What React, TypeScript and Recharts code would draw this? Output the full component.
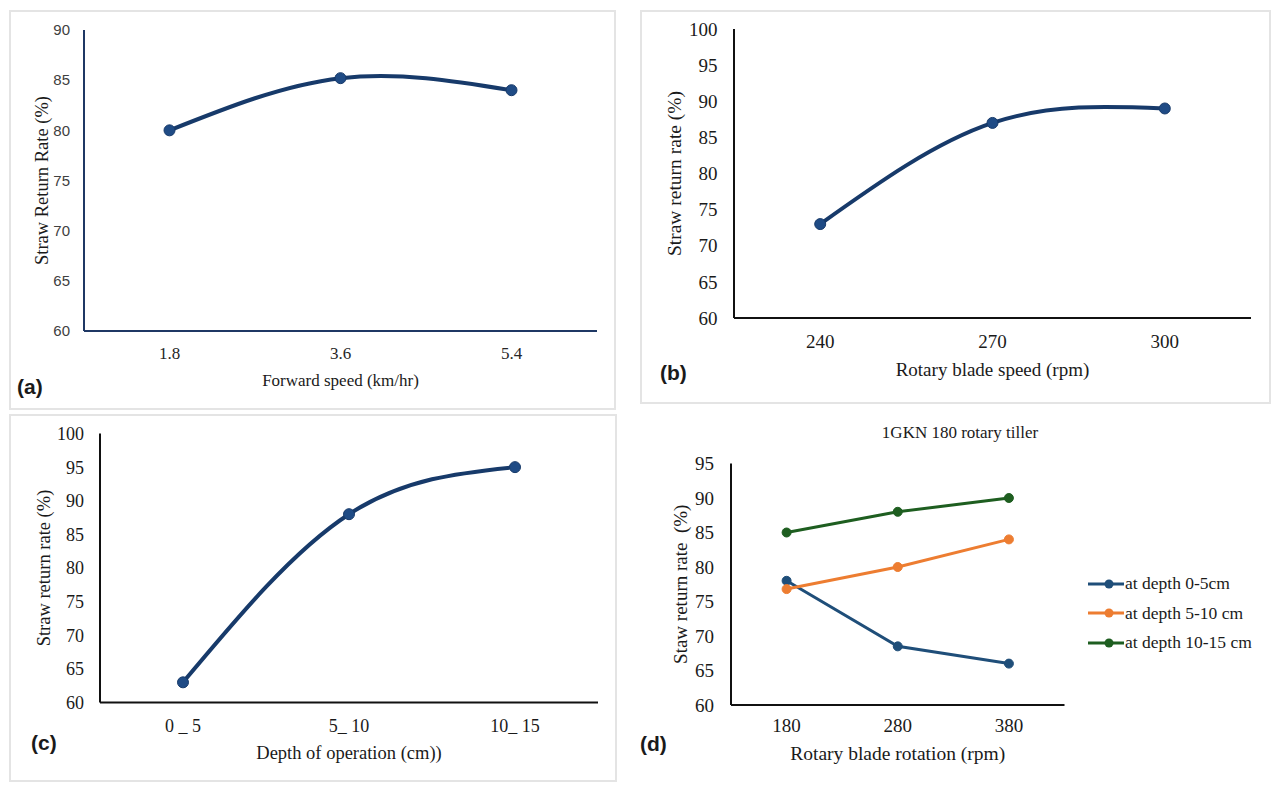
import React from 'react';
import { LineChart, Line, XAxis, YAxis, Label, Legend } from 'recharts';

// ---- data ----
const speedCategories = ['1.8', '3.6', '5.4'];
const speedReturnRate = [80, 85.2, 84];
const speedTicks = [60, 65, 70, 75, 80, 85, 90];

const bladeSpeedCategories = ['240', '270', '300'];
const bladeSpeedReturnRate = [73, 87, 89];
const bladeSpeedTicks = [60, 65, 70, 75, 80, 85, 90, 95, 100];

const depthCategories = ['0 _ 5', '5_ 10', '10_ 15'];
const depthReturnRate = [63, 88, 95];
const depthTicks = [60, 65, 70, 75, 80, 85, 90, 95, 100];

const rotationCategories = ['180', '280', '380'];
const depth0to5 = [78, 68.5, 66];
const depth5to10 = [76.8, 80, 84];
const depth10to15 = [85, 88, 90];
const rotationTicks = [60, 65, 70, 75, 80, 85, 90, 95];
const seriesOrder = ['d1', 'd2', 'd3'];

const SERIF = '"Liberation Serif", "Times New Roman", serif';
const SANS = '"Liberation Sans", Arial, sans-serif';
const NAVY = '#173a6a';
const DOT = '#1f4b85';
const BLUE = '#1f4e79';
const ORANGE = '#ed7d31';
const GREEN = '#1e5e20';

const speedData = speedCategories.map((c, i) => ({ cat: c, v: speedReturnRate[i] }));
const bladeData = bladeSpeedCategories.map((c, i) => ({ cat: c, v: bladeSpeedReturnRate[i] }));
const depthData = depthCategories.map((c, i) => ({ cat: c, v: depthReturnRate[i] }));
const rotationData = rotationCategories.map((c, i) => ({
  cat: c,
  d1: depth0to5[i],
  d2: depth5to10[i],
  d3: depth10to15[i],
}));

const frame = (left: number, top: number, width: number, height: number): React.CSSProperties => ({
  position: 'absolute',
  left,
  top,
  width,
  height,
  boxSizing: 'border-box',
  border: '2px solid #e4e4e4',
});

const letter = (left: number, centerY: number): React.CSSProperties => ({
  position: 'absolute',
  left,
  top: centerY - 12,
  lineHeight: '24px',
  fontFamily: SANS,
  fontWeight: 'bold',
  fontSize: 21,
  color: '#1a1a1a',
});

const renderLegend = (props: any) => {
  const payload = [...(props.payload || [])].sort(
    (a: any, b: any) => seriesOrder.indexOf(a.dataKey) - seriesOrder.indexOf(b.dataKey)
  );
  return (
    <div>
      {payload.map((entry: any) => (
        <div key={entry.value} style={{ display: 'flex', alignItems: 'center', height: 29.5 }}>
          <svg width={36} height={12} style={{ display: 'block' }}>
            <line x1={0} y1={6} x2={36} y2={6} stroke={entry.color} strokeWidth={3} />
            <circle cx={21} cy={6} r={4.5} fill={entry.color} />
          </svg>
          <span
            style={{
              fontFamily: SERIF,
              fontSize: 17.5,
              color: '#1a1a1a',
              marginLeft: 1,
              whiteSpace: 'nowrap',
            }}
          >
            {entry.value}
          </span>
        </div>
      ))}
    </div>
  );
};

const bigDot = { r: 5.5, fill: DOT, stroke: NAVY, strokeWidth: 1 };

export default function App() {
  return (
    <div style={{ position: 'absolute', left: 0, top: 0, width: 1280, height: 789, background: '#fff' }}>
      {/* frames */}
      <div style={frame(9, 10, 607, 400)} />
      <div style={frame(640, 10, 631, 394)} />
      <div style={frame(9, 414, 608, 368)} />

      {/* (a) */}
      <div style={{ position: 'absolute', left: 9, top: 10 }}>
        <LineChart width={607} height={400} data={speedData} margin={{ top: 20, right: 19, bottom: 0, left: 0 }}>
          <XAxis
            dataKey="cat"
            height={79}
            padding={{ left: 85.5, right: 85.5 }}
            axisLine={{ stroke: '#1f3864', strokeWidth: 2 }}
            tickLine={false}
            tickMargin={10}
            tick={{ fontFamily: SERIF, fontSize: 17, fill: '#262626' }}
          >
            <Label
              value="Forward speed (km/hr)"
              position="insideTop"
              offset={43}
              style={{ fontFamily: SERIF, fontSize: 17, fill: '#1a1a1a' }}
            />
          </XAxis>
          <YAxis
            type="number"
            domain={[60, 90]}
            ticks={speedTicks}
            width={75}
            axisLine={{ stroke: '#1f3864', strokeWidth: 2 }}
            tickLine={false}
            tickMargin={8}
            tick={{ fontFamily: SANS, fontSize: 15, fill: '#404040' }}
          >
            <Label
              value="Straw Return Rate (%)"
              angle={-90}
              position="insideLeft"
              offset={32}
              style={{ textAnchor: 'middle', fontFamily: SERIF, fontSize: 18.5, fill: '#1a1a1a' }}
            />
          </YAxis>
          <Line
            type="natural"
            dataKey="v"
            stroke={NAVY}
            strokeWidth={4}
            dot={bigDot}
            activeDot={false}
            isAnimationActive={false}
          />
        </LineChart>
      </div>
      <div style={letter(17, 387)}>(a)</div>

      {/* (b) */}
      <div style={{ position: 'absolute', left: 640, top: 10 }}>
        <LineChart width={632} height={394} data={bladeData} margin={{ top: 19, right: 21, bottom: 0, left: 0 }}>
          <XAxis
            dataKey="cat"
            height={86}
            padding={{ left: 86.2, right: 86.2 }}
            axisLine={{ stroke: '#111', strokeWidth: 2 }}
            tickLine={false}
            tickMargin={11}
            tick={{ fontFamily: SERIF, fontSize: 19, fill: '#1a1a1a' }}
          >
            <Label
              value="Rotary blade speed (rpm)"
              position="insideTop"
              offset={45}
              style={{ fontFamily: SERIF, fontSize: 19, fill: '#1a1a1a' }}
            />
          </XAxis>
          <YAxis
            type="number"
            domain={[60, 100]}
            ticks={bladeSpeedTicks}
            width={94}
            axisLine={{ stroke: '#111', strokeWidth: 2 }}
            tickLine={false}
            tickMargin={10.5}
            tick={{ fontFamily: SERIF, fontSize: 19, fill: '#1a1a1a' }}
          >
            <Label
              value="Straw return rate (%)"
              angle={-90}
              position="insideLeft"
              offset={34}
              style={{ textAnchor: 'middle', fontFamily: SERIF, fontSize: 19.5, fill: '#1a1a1a' }}
            />
          </YAxis>
          <Line
            type="natural"
            dataKey="v"
            stroke={NAVY}
            strokeWidth={4}
            dot={bigDot}
            activeDot={false}
            isAnimationActive={false}
          />
        </LineChart>
      </div>
      <div style={letter(660, 373)}>(b)</div>

      {/* (c) */}
      <div style={{ position: 'absolute', left: 9, top: 414 }}>
        <LineChart width={608} height={368} data={depthData} margin={{ top: 19.5, right: 19, bottom: 0, left: 0 }}>
          <XAxis
            dataKey="cat"
            height={79.5}
            padding={{ left: 83, right: 83 }}
            axisLine={{ stroke: '#111', strokeWidth: 2 }}
            tickLine={false}
            tickMargin={11}
            tick={{ fontFamily: SERIF, fontSize: 18, fill: '#1a1a1a' }}
          >
            <Label
              value="Depth of operation (cm))"
              position="insideTop"
              offset={43}
              style={{ fontFamily: SERIF, fontSize: 18.5, fill: '#1a1a1a' }}
            />
          </XAxis>
          <YAxis
            type="number"
            domain={[60, 100]}
            ticks={depthTicks}
            width={91}
            axisLine={{ stroke: '#111', strokeWidth: 2 }}
            tickLine={false}
            tickMargin={10}
            tick={{ fontFamily: SERIF, fontSize: 18, fill: '#1a1a1a' }}
          >
            <Label
              value="Straw return rate (%)"
              angle={-90}
              position="insideLeft"
              offset={34}
              style={{ textAnchor: 'middle', fontFamily: SERIF, fontSize: 18.5, fill: '#1a1a1a' }}
            />
          </YAxis>
          <Line
            type="natural"
            dataKey="v"
            stroke={NAVY}
            strokeWidth={4}
            dot={bigDot}
            activeDot={false}
            isAnimationActive={false}
          />
        </LineChart>
      </div>
      <div style={letter(31, 743)}>(c)</div>

      {/* (d) */}
      <div
        style={{
          position: 'absolute',
          left: 860,
          width: 200,
          top: 423,
          lineHeight: '20px',
          textAlign: 'center',
          fontFamily: SERIF,
          fontSize: 17,
          color: '#1a1a1a',
        }}
      >
        1GKN 180 rotary tiller
      </div>
      <div style={{ position: 'absolute', left: 640, top: 404 }}>
        <LineChart
          width={640}
          height={385}
          data={rotationData}
          margin={{ top: 59.5, right: 215.5, bottom: 0, left: 0 }}
        >
          <XAxis
            dataKey="cat"
            height={84}
            padding={{ left: 55.6, right: 55.6 }}
            axisLine={{ stroke: '#111', strokeWidth: 2 }}
            tickLine={false}
            tickMargin={8}
            tick={{ fontFamily: SERIF, fontSize: 19, fill: '#1a1a1a' }}
          >
            <Label
              value="Rotary blade rotation (rpm)"
              position="insideTop"
              offset={41}
              style={{ fontFamily: SERIF, fontSize: 19.5, fill: '#1a1a1a' }}
            />
          </XAxis>
          <YAxis
            type="number"
            domain={[60, 95]}
            ticks={rotationTicks}
            width={91}
            axisLine={{ stroke: '#111', strokeWidth: 2 }}
            tickLine={false}
            tickMargin={11}
            tick={{ fontFamily: SERIF, fontSize: 19, fill: '#1a1a1a' }}
          >
            <Label
              value={'Staw return rate\u00A0 (%)'}
              angle={-90}
              position="insideLeft"
              offset={40}
              style={{ textAnchor: 'middle', fontFamily: SERIF, fontSize: 19, fill: '#1a1a1a' }}
            />
          </YAxis>
          <Legend
            layout="vertical"
            align="center"
            verticalAlign="middle"
            itemSorter={(item: any) => seriesOrder.indexOf(item.dataKey)}
            content={renderLegend}
            wrapperStyle={{ left: 448, top: 165, width: 'auto' }}
          />
          <Line
            type="linear"
            dataKey="d1"
            name="at depth 0-5cm"
            stroke={BLUE}
            strokeWidth={3}
            dot={{ r: 4.5, fill: BLUE, stroke: BLUE, strokeWidth: 1 }}
            activeDot={false}
            isAnimationActive={false}
          />
          <Line
            type="linear"
            dataKey="d2"
            name="at depth 5-10 cm"
            stroke={ORANGE}
            strokeWidth={3}
            dot={{ r: 4.5, fill: ORANGE, stroke: ORANGE, strokeWidth: 1 }}
            activeDot={false}
            isAnimationActive={false}
          />
          <Line
            type="linear"
            dataKey="d3"
            name="at depth 10-15 cm"
            stroke={GREEN}
            strokeWidth={3}
            dot={{ r: 4.5, fill: GREEN, stroke: GREEN, strokeWidth: 1 }}
            activeDot={false}
            isAnimationActive={false}
          />
        </LineChart>
      </div>
      <div style={letter(640, 744)}>(d)</div>
    </div>
  );
}
